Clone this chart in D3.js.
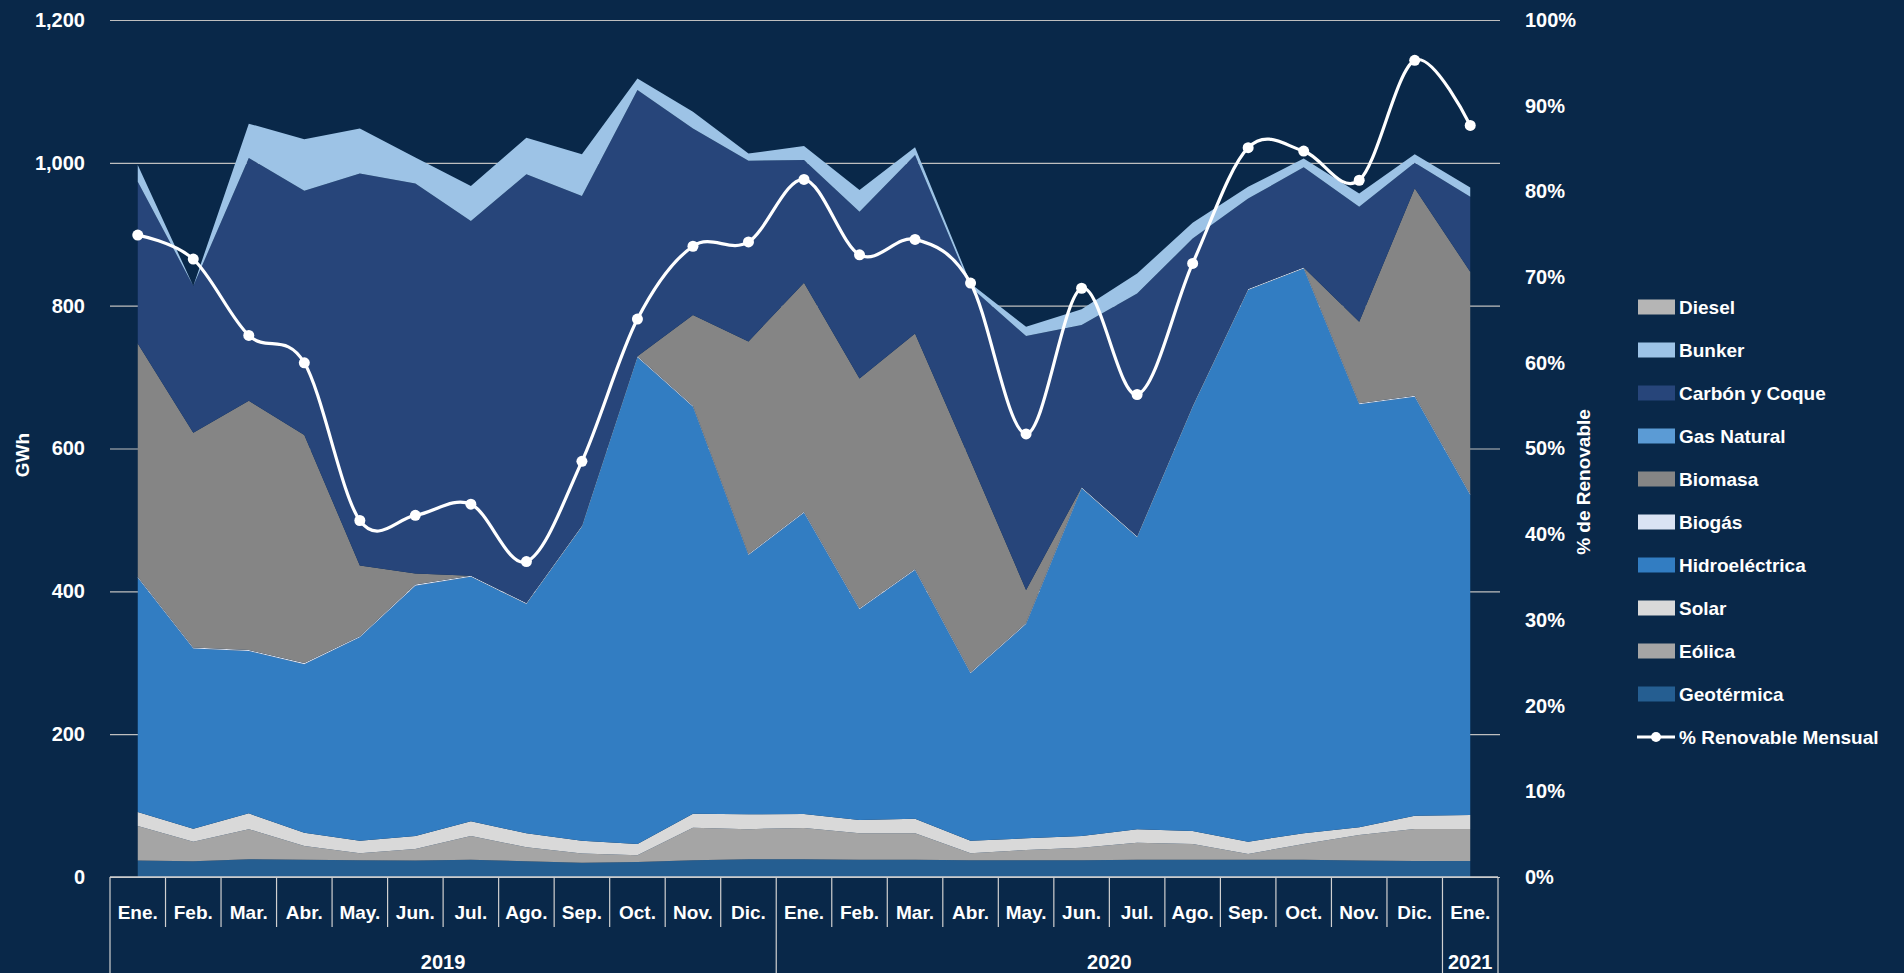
<!DOCTYPE html>
<html>
<head>
<meta charset="utf-8">
<title>Generación mensual</title>
<script src="https://cdn.jsdelivr.net/npm/d3@7"></script>
<style>
body{margin:0;background:#092849;overflow:hidden;}
text{font-family:"Liberation Sans",Arial,sans-serif;font-weight:bold;fill:#fff;}
</style>
</head>
<body>
<script>
//monthly generation by source + % renewable

//categories
var months = ["Ene.","Feb.","Mar.","Abr.","May.","Jun.","Jul.","Ago.","Sep.","Oct.","Nov.","Dic.",
              "Ene.","Feb.","Mar.","Abr.","May.","Jun.","Jul.","Ago.","Sep.","Oct.","Nov.","Dic.",
              "Ene."];
var yearLabels = ["2019","2020","2021"];
var yearStart = [0, 12, 24]; //first month index of each year
var yearEnd = [12, 24, 25];

//GWh per source
var geotermica = [23,22,25,24,23.5,23,24,22,20,21,23.5,25,25,24,24,23.5,23.5,23.5,24,24,24,24,23,22.5,22.5];
var eolica = [48.4,27.5,42,19.4,9.6,16.2,33.4,19.5,13,9.3,45.5,42,43.6,37.2,37.2,9.6,14.3,17.5,24,22.2,8.2,22.2,35.8,44.7,44.7];
var solar = [19.6,18.2,22.1,18.6,17.8,18.2,20.6,19.7,17.9,15.9,19.7,20.8,19.6,18.6,20.5,17.8,16.3,16.4,18.7,18.2,17.3,15,10.7,18.7,19.6];
var hidro = [328,252.3,227.3,236,284.7,350.5,342.4,321,439.6,681.4,569.8,363,421.8,295,348.1,234.3,300.1,486.8,408.9,593.6,772.5,790.8,592.5,586.6,448];
var biogas = [1.5,1.5,1.5,1.5,1.5,1.5,1.5,1.5,1.5,1.5,1.5,1.5,1.5,1.5,1.5,1.5,1.5,1.5,1.5,1.5,1.5,1.5,1.5,1.5,1.5];
var biomasa = [326.5,300.5,349,319.5,99,15.6,0,0,0,0,127,297.7,320.5,321.7,329.7,296.3,46.3,0,0,0,0,0,114,290.3,311.2];
var gasNatural = [0,0,0,0,0,0,0,0,0,0,0,0,0,0,0,0,0,0,0,0,0,0,0,0,0];
var carbon = [226.6,205.5,340,342,549,546,496.6,600.3,461.5,372.9,261,253,172,233.5,250,243,355.5,227.3,339.9,234.5,126.5,140.2,161,35.7,105];
var bunker = [23.4,0,48,72,63,36.6,49,51,58.5,16,23.6,10,19.5,30.5,10.7,5,13,22,28,22,16.5,12.3,18.5,12,13];
var diesel = [0,0,0,0,0,0,0,0,0,0,0,0,0,0,0,0,0,0,0,0,0,0,0,0,0];

//% renovable mensual
var renovable = [74.9,72.1,63.2,60.0,41.6,42.2,43.5,36.8,48.5,65.1,73.6,74.1,81.4,72.6,74.4,69.3,51.7,68.7,56.3,71.6,85.1,84.7,81.3,95.3,87.7];

//stack order bottom -> top
var keys = ["Geotérmica","Eólica","Solar","Hidroeléctrica","Biogás","Biomasa","Gas Natural","Carbón y Coque","Bunker","Diesel"];
var seriesArrays = [geotermica, eolica, solar, hidro, biogas, biomasa, gasNatural, carbon, bunker, diesel];
var colors = ["#255e91","#a5a5a5","#d9d9d9","#327dc2","#dae3f3","#858585","#5b9bd5","#27457a","#9dc3e6","#b5b5b5"];
var legendKeys = ["Diesel","Bunker","Carbón y Coque","Gas Natural","Biomasa","Biogás","Hidroeléctrica","Solar","Eólica","Geotérmica"];

window.onload = drawChart();

function drawChart(){
    var width = 1904, height = 973;
    var left = 110, right = 1498, top = 20, bottom = 877;

    var svg = d3.select("body").append("svg")
        .attr("width", width)
        .attr("height", height);

    //build rows for d3.stack
    var rows = months.map(function(m, i){
        var row = {i: i};
        keys.forEach(function(k, j){ row[k] = seriesArrays[j][i]; });
        return row;
    });

    var x = d3.scaleBand()
        .domain(d3.range(months.length))
        .range([left, right]);
    var xc = function(i){ return x(i) + x.bandwidth() / 2; };

    var y = d3.scaleLinear().domain([0, 1200]).range([bottom, top]);
    var y2 = d3.scaleLinear().domain([0, 100]).range([bottom, top]);

    //gridlines + left labels
    var yAxis = svg.append("g")
        .attr("transform", "translate(" + left + ",0)")
        .call(d3.axisLeft(y)
            .tickValues(d3.range(0, 1201, 200))
            .tickSize(-(1500 - left))
            .tickPadding(25)
            .tickFormat(d3.format(",")));
    yAxis.select(".domain").remove();
    yAxis.selectAll("line").attr("stroke", "#bfbfbf").attr("stroke-width", 1.2);
    yAxis.selectAll("text").style("font-size", "20px").attr("fill", "#fff");

    //right axis labels
    var y2Axis = svg.append("g")
        .attr("transform", "translate(1500,0)")
        .call(d3.axisRight(y2)
            .tickValues(d3.range(0, 101, 10))
            .tickSize(0)
            .tickPadding(25)
            .tickFormat(function(d){ return d + "%"; }));
    y2Axis.select(".domain").remove();
    y2Axis.selectAll("text").style("font-size", "20px").attr("fill", "#fff");

    //stacked areas
    var stack = d3.stack().keys(keys);
    var layers = stack(rows);

    var area = d3.area()
        .x(function(d){ return xc(d.data.i); })
        .y0(function(d){ return y(d[0]); })
        .y1(function(d){ return y(d[1]); });

    svg.selectAll(".layer")
        .data(layers)
        .enter()
        .append("path")
        .attr("class", "layer")
        .attr("d", area)
        .attr("fill", function(d, i){ return colors[i]; });

    //category axis
    var catAxis = svg.append("g").attr("class", "catAxis");
    catAxis.append("line")
        .attr("x1", left).attr("x2", right)
        .attr("y1", bottom).attr("y2", bottom)
        .attr("stroke", "#d0d0d0").attr("stroke-width", 1.5);

    catAxis.selectAll(".sep")
        .data(d3.range(months.length + 1))
        .enter()
        .append("line")
        .attr("x1", function(d){ return left + d * x.step(); })
        .attr("x2", function(d){ return left + d * x.step(); })
        .attr("y1", bottom)
        .attr("y2", function(d){
            return (yearStart.indexOf(d) >= 0 || d == months.length) ? height : 927;
        })
        .attr("stroke", "#d0d0d0").attr("stroke-width", 1.2);

    catAxis.selectAll(".month")
        .data(months)
        .enter()
        .append("text")
        .attr("x", function(d, i){ return xc(i); })
        .attr("y", 912)
        .attr("dy", "0.35em")
        .attr("text-anchor", "middle")
        .style("font-size", "19px")
        .text(function(d){ return d; });

    catAxis.selectAll(".year")
        .data(yearLabels)
        .enter()
        .append("text")
        .attr("x", function(d, i){ return (left + yearStart[i] * x.step() + left + yearEnd[i] * x.step()) / 2; })
        .attr("y", 962)
        .attr("dy", "0.35em")
        .attr("text-anchor", "middle")
        .style("font-size", "20px")
        .text(function(d){ return d; });

    //% renovable line
    var line = d3.line()
        .x(function(d, i){ return xc(i); })
        .y(function(d){ return y2(d); })
        .curve(d3.curveCatmullRom.alpha(0));

    svg.append("path")
        .datum(renovable)
        .attr("d", line)
        .attr("fill", "none")
        .attr("stroke", "#fff")
        .attr("stroke-width", 3.2);

    svg.selectAll(".dot")
        .data(renovable)
        .enter()
        .append("circle")
        .attr("cx", function(d, i){ return xc(i); })
        .attr("cy", function(d){ return y2(d); })
        .attr("r", 5.5)
        .attr("fill", "#fff");

    //axis titles
    svg.append("text")
        .attr("transform", "translate(22,455) rotate(-90)")
        .attr("text-anchor", "middle")
        .attr("dy", "0.35em")
        .style("font-size", "19px")
        .text("GWh");

    svg.append("text")
        .attr("transform", "translate(1583,482) rotate(-90)")
        .attr("text-anchor", "middle")
        .attr("dy", "0.35em")
        .style("font-size", "19px")
        .text("% de Renovable");

    setLegend(svg);
};

function setLegend(svg){
    var lx = 1638, ly = 307, step = 43;
    var legend = svg.append("g").attr("class", "legend");

    legendKeys.forEach(function(k, i){
        var c = colors[keys.indexOf(k)];
        legend.append("rect")
            .attr("x", lx).attr("y", ly + i * step - 7.5)
            .attr("width", 37).attr("height", 15)
            .attr("fill", c);
        legend.append("text")
            .attr("x", lx + 41).attr("y", ly + i * step)
            .attr("dy", "0.35em")
            .style("font-size", "19px")
            .text(k);
    });

    //line entry
    var yy = ly + legendKeys.length * step;
    legend.append("line")
        .attr("x1", lx - 1).attr("x2", lx + 37)
        .attr("y1", yy).attr("y2", yy)
        .attr("stroke", "#fff").attr("stroke-width", 3);
    legend.append("circle")
        .attr("cx", lx + 18).attr("cy", yy).attr("r", 5)
        .attr("fill", "#fff");
    legend.append("text")
        .attr("x", lx + 41).attr("y", yy)
        .attr("dy", "0.35em")
        .style("font-size", "19px")
        .text("% Renovable Mensual");
};
</script>
</body>
</html>
